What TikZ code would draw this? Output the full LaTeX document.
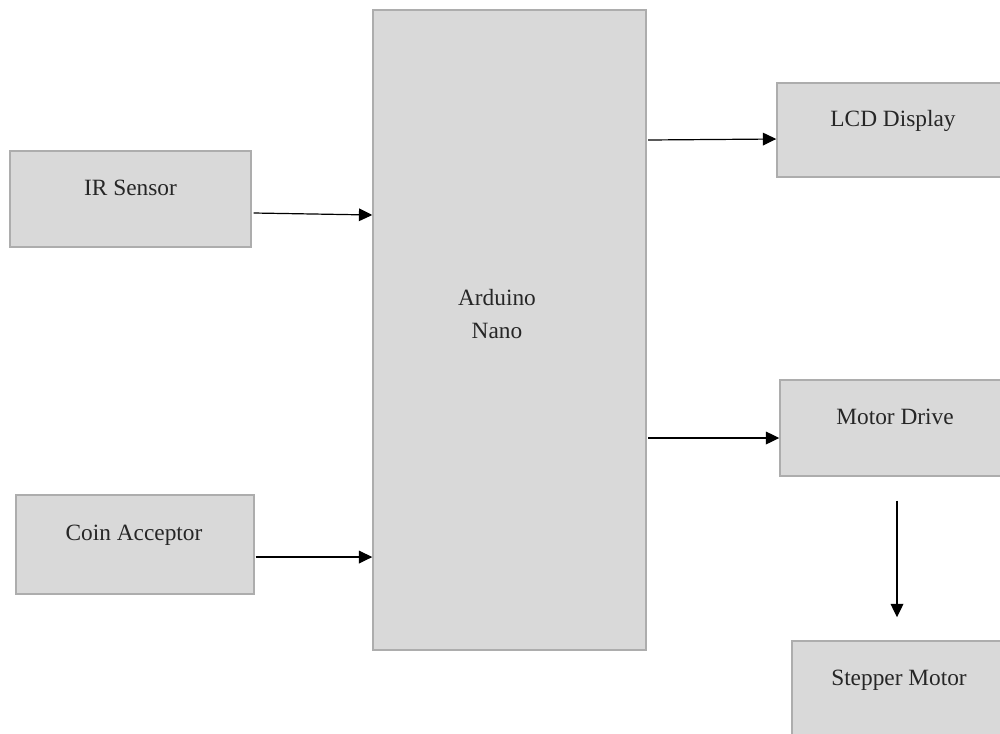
\documentclass[tikz,border=0pt]{standalone}
\usepackage{fontspec}
\setmainfont{Liberation Serif}
\usetikzlibrary{arrows.meta,calc}
\definecolor{boxfill}{HTML}{D9D9D9}
\definecolor{boxline}{HTML}{ADADAD}
\begin{document}
\begin{tikzpicture}[x=0.75pt,y=-0.75pt,
  box/.style={draw=boxline,fill=boxfill,line width=1.1pt,inner sep=0pt,rectangle},
  lbl/.style={font=\fontsize{17.5}{24.75}\selectfont,text=black!85,inner sep=0pt,align=center},
  arr/.style={draw=black,line width=0.9pt,-{Triangle[length=10pt,width=9.5pt]}}]
\useasboundingbox (0,0) rectangle (1000,733);
\fill[white] (0,0) rectangle (1000,733);
% boxes
\node[box,minimum width=180.75pt,minimum height=72pt] (ir) at (130.5,199) {};
\node[box,minimum width=178.5pt,minimum height=74.25pt] (coin) at (135,544.5) {};
\node[box,minimum width=204.75pt,minimum height=480pt] (ard) at (509.5,330) {};
\node[box,minimum width=174pt,minimum height=70.5pt] (lcd) at (893,130) {};
\node[box,minimum width=172.5pt,minimum height=72pt] (mot) at (895,428) {};
\node[box,minimum width=160.5pt,minimum height=73.5pt] (step) at (899,690) {};
% labels
\node[lbl] (irt) at (130.5,188) {IR Sensor};
\node[lbl] (coint) at (134,535) {Coin Acceptor};
\node[lbl] (ardt) at (497,314) {Arduino\\Nano};
\node[lbl] (lcdt) at (893,121) {LCD Display};
\node[lbl] (mott) at (895,417) {Motor Drive};
\node[lbl] (stept) at (899,680) {Stepper Motor};
% connectors
\draw[arr] ([xshift=1.5pt,yshift=-10.5pt]ir.east) -- ([yshift=-12pt]ir.east -| ard.west);
\draw[arr] ([xshift=0.75pt,yshift=-9.4pt]coin.east) -- ([yshift=-9.4pt]coin.east -| ard.west);
\draw[arr] ([xshift=1pt,yshift=-7.5pt]lcd.west -| ard.east) -- ([yshift=-6.75pt]lcd.west);
\draw[arr] ([xshift=1pt,yshift=-7.5pt]mot.west -| ard.east) -- ([yshift=-7.5pt]mot.west);
\draw[arr] ([xshift=1.5pt,yshift=-18pt]mot.south) -- ([xshift=1.5pt,yshift=17.25pt]mot.south |- step.north);
\end{tikzpicture}
\end{document}
